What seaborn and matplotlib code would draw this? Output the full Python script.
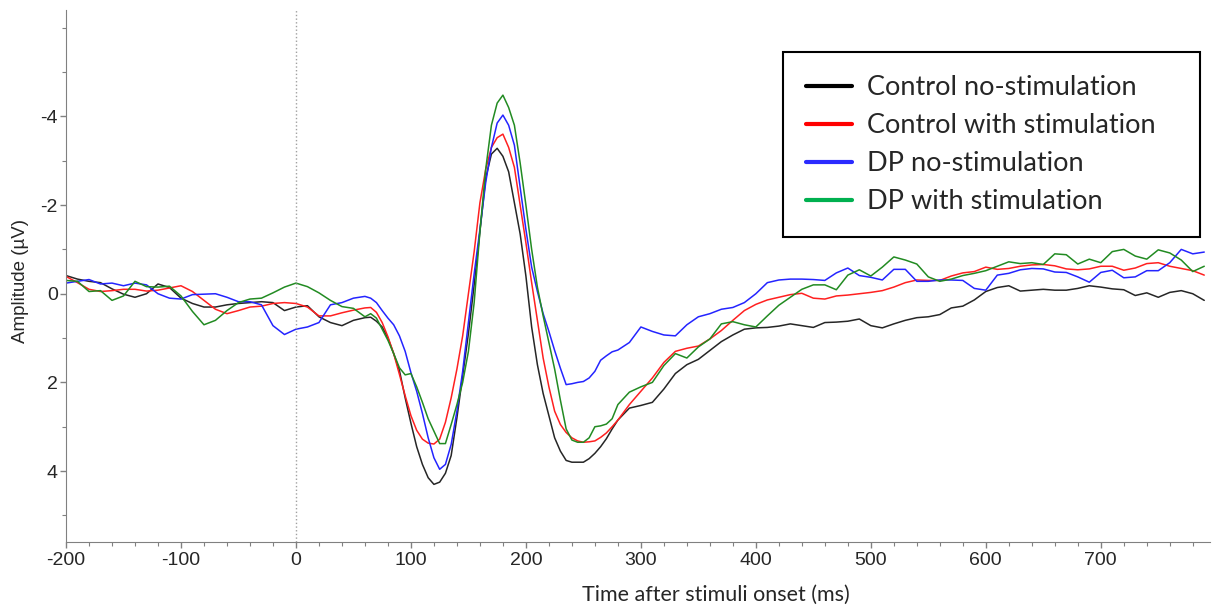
import pandas as pd
import seaborn as sns
import matplotlib.pyplot as plt
from matplotlib.lines import Line2D
from matplotlib.ticker import MultipleLocator

# time axis (ms): 10 ms steps, 5 ms steps around the N1/P2/N2 peaks
time_ms = list(range(-200, 60, 10)) + list(range(60, 285, 5)) + list(range(290, 800, 10))

control_no_stim = [
    # -200 .. 50
    -0.41, -0.33, -0.28, -0.25, -0.11, 0.01, 0.08, 0.00, -0.22, -0.14,
    0.10, 0.22, 0.30, 0.30, 0.25, 0.22, 0.20, 0.18, 0.20, 0.38,
    0.30, 0.27, 0.52, 0.65, 0.72, 0.60,
    # 60 .. 280
    0.54, 0.53, 0.62, 0.75, 1.00, 1.35, 1.73, 2.35, 2.92, 3.45,
    3.85, 4.15, 4.30, 4.25, 4.05, 3.65, 2.80, 1.85, 0.90, -0.20,
    -1.40, -2.60, -3.15, -3.28, -3.10, -2.75, -2.05, -1.35, -0.40, 0.75,
    1.60, 2.25, 2.75, 3.25, 3.55, 3.76, 3.80, 3.80, 3.80, 3.72,
    3.60, 3.45, 3.27, 3.05, 2.85,
    # 290 .. 790
    2.58, 2.52, 2.45, 2.15, 1.80, 1.60, 1.48, 1.28, 1.08, 0.93, 0.80,
    0.77, 0.76, 0.73, 0.68, 0.72, 0.76, 0.65, 0.64, 0.62, 0.57,
    0.72, 0.77, 0.68, 0.60, 0.54, 0.52, 0.47, 0.32, 0.28, 0.14,
    -0.05, -0.14, -0.18, -0.06, -0.08, -0.10, -0.08, -0.08, -0.12, -0.18,
    -0.15, -0.11, -0.09, 0.04, -0.02, 0.08, -0.03, -0.07, 0.00, 0.15,
]

control_stim = [
    -0.39, -0.25, -0.10, -0.05, -0.07, -0.10, -0.10, -0.06, -0.08, -0.13,
    -0.18, -0.05, 0.15, 0.35, 0.45, 0.38, 0.30, 0.28, 0.22, 0.20,
    0.22, 0.30, 0.50, 0.50, 0.43, 0.37,
    0.32, 0.31, 0.42, 0.65, 0.97, 1.35, 1.82, 2.30, 2.75, 3.08,
    3.28, 3.37, 3.39, 3.28, 2.90, 2.35, 1.70, 0.95, 0.00, -0.95,
    -2.05, -2.80, -3.30, -3.52, -3.60, -3.30, -2.85, -2.00, -1.15, -0.25,
    0.60, 1.45, 2.10, 2.65, 2.95, 3.13, 3.25, 3.32, 3.35, 3.34,
    3.32, 3.24, 3.14, 3.00, 2.85,
    2.50, 2.20, 1.90, 1.55, 1.30, 1.23, 1.18, 1.02, 0.83, 0.60, 0.38,
    0.24, 0.14, 0.08, 0.02, -0.01, 0.10, 0.12, 0.05, 0.03, 0.00,
    -0.03, -0.07, -0.15, -0.25, -0.31, -0.30, -0.30, -0.40, -0.47, -0.50,
    -0.60, -0.55, -0.57, -0.62, -0.65, -0.66, -0.63, -0.56, -0.54, -0.56,
    -0.62, -0.62, -0.53, -0.58, -0.68, -0.70, -0.62, -0.57, -0.52, -0.42,
]

dp_no_stim = [
    -0.24, -0.28, -0.32, -0.22, -0.24, -0.18, -0.24, -0.20, 0.00, 0.10,
    0.12, 0.02, 0.01, 0.00, 0.08, 0.18, 0.18, 0.25, 0.72, 0.92,
    0.80, 0.75, 0.65, 0.25, 0.20, 0.10,
    0.06, 0.10, 0.20, 0.38, 0.55, 0.70, 0.95, 1.30, 1.78, 2.20,
    2.70, 3.25, 3.70, 3.96, 3.85, 3.40, 2.65, 1.75, 0.65, -0.45,
    -1.45, -2.50, -3.30, -3.85, -4.03, -3.80, -3.35, -2.40, -1.45, -0.60,
    -0.05, 0.45, 0.85, 1.28, 1.68, 2.05, 2.03, 2.00, 1.98, 1.90,
    1.75, 1.50, 1.40, 1.31, 1.27,
    1.10, 0.75, 0.85, 0.93, 0.95, 0.70, 0.52, 0.45, 0.35, 0.31, 0.20,
    0.00, -0.25, -0.31, -0.33, -0.33, -0.32, -0.30, -0.47, -0.58, -0.41,
    -0.37, -0.31, -0.55, -0.55, -0.28, -0.28, -0.31, -0.31, -0.30, -0.12,
    -0.08, -0.42, -0.46, -0.54, -0.57, -0.56, -0.49, -0.48, -0.38, -0.26,
    -0.48, -0.53, -0.36, -0.38, -0.52, -0.52, -0.70, -1.00, -0.90, -0.94,
]

dp_stim = [
    -0.30, -0.28, -0.05, -0.07, 0.15, 0.05, -0.28, -0.16, -0.15, -0.17,
    0.05, 0.40, 0.70, 0.60, 0.38, 0.20, 0.12, 0.10, -0.02, -0.15,
    -0.24, -0.16, -0.02, 0.15, 0.29, 0.33,
    0.52, 0.45, 0.55, 0.80, 1.05, 1.35, 1.67, 1.83, 1.80, 2.10,
    2.45, 2.82, 3.10, 3.38, 3.38, 2.95, 2.50, 2.00, 1.30, 0.20,
    -1.40, -2.80, -3.80, -4.30, -4.48, -4.20, -3.80, -2.95, -2.00, -1.00,
    -0.15, 0.50, 1.10, 1.70, 2.40, 3.05, 3.30, 3.35, 3.35, 3.25,
    3.00, 2.98, 2.94, 2.82, 2.50,
    2.22, 2.10, 2.00, 1.62, 1.35, 1.45, 1.20, 1.02, 0.68, 0.63, 0.70,
    0.75, 0.50, 0.26, 0.08, -0.10, -0.20, -0.20, -0.09, -0.42, -0.54,
    -0.40, -0.60, -0.83, -0.76, -0.67, -0.38, -0.28, -0.33, -0.41, -0.46,
    -0.52, -0.62, -0.72, -0.68, -0.70, -0.66, -0.90, -0.88, -0.67, -0.78,
    -0.70, -0.95, -1.00, -0.85, -0.78, -0.99, -0.92, -0.76, -0.50, -0.62,
]

conditions = ["Control no-stimulation", "Control with stimulation",
              "DP no-stimulation", "DP with stimulation"]
line_colors = ["#262626", "#ff2020", "#2424ff", "#228b22"]
legend_colors = ["#000000", "#ff0000", "#2b2bff", "#00b050"]

rows = []
for name, vals in zip(conditions, [control_no_stim, control_stim, dp_no_stim, dp_stim]):
    for t, v in zip(time_ms, vals):
        rows.append((name, t, v))
df = pd.DataFrame(rows, columns=["condition", "time", "amplitude"])

sns.set_style("ticks")
plt.rcParams["font.family"] = ["Liberation Sans", "DejaVu Sans"]
plt.rcParams["axes.unicode_minus"] = False

fig = plt.figure(figsize=(12.13, 6.08), dpi=100)
ax = fig.add_axes([66 / 1213, 1 - 542 / 608, 1144 / 1213, 532 / 608])

sns.lineplot(data=df, x="time", y="amplitude", hue="condition",
             palette=dict(zip(conditions, line_colors)), linewidth=1.1,
             legend=False, ax=ax)

ax.axvline(0, color="#a0a0a0", linestyle=":", linewidth=1)

ax.set_xlim(-200, 795)
ax.set_ylim(5.6, -6.4)
ax.set_xticks(range(-200, 800, 100))
ax.xaxis.set_minor_locator(MultipleLocator(20))
ax.set_yticks([-4, -2, 0, 2, 4])
ax.yaxis.set_minor_locator(MultipleLocator(1))
ax.tick_params(which="major", length=4, width=1, color="#808080", labelsize=14)
ax.tick_params(which="minor", length=3, width=0.8, color="#808080")
ax.tick_params(axis="y", which="major", pad=2)

for side in ["top", "right"]:
    ax.spines[side].set_visible(False)
for side in ["left", "bottom"]:
    ax.spines[side].set_color("#808080")

ax.set_xlabel("Time after stimuli onset (ms)", fontsize=15.5,
              family=["Lato", "DejaVu Sans"])
ax.xaxis.set_label_coords(0.568, -0.08)
ax.set_ylabel("Amplitude (µV)", fontsize=13.5)
ax.yaxis.set_label_coords(-0.032, 0.49)

handles = [Line2D([0], [0], color=c, linewidth=3) for c in legend_colors]
leg = ax.legend(handles, conditions, loc="upper left",
                bbox_to_anchor=(783 / 1213, 1 - 232 / 608, 417 / 1213, 180 / 608),
                bbox_transform=fig.transFigure, mode="expand",
                frameon=True, fancybox=False,
                prop={"family": "Lato", "size": 19.5}, handlelength=1.7,
                handletextpad=0.55, labelspacing=0.48, borderpad=0.85,
                borderaxespad=0)
leg.get_frame().set_edgecolor("black")
leg.get_frame().set_linewidth(1.5)
leg.get_frame().set_alpha(1)

fig.savefig("out.png", dpi=100)
